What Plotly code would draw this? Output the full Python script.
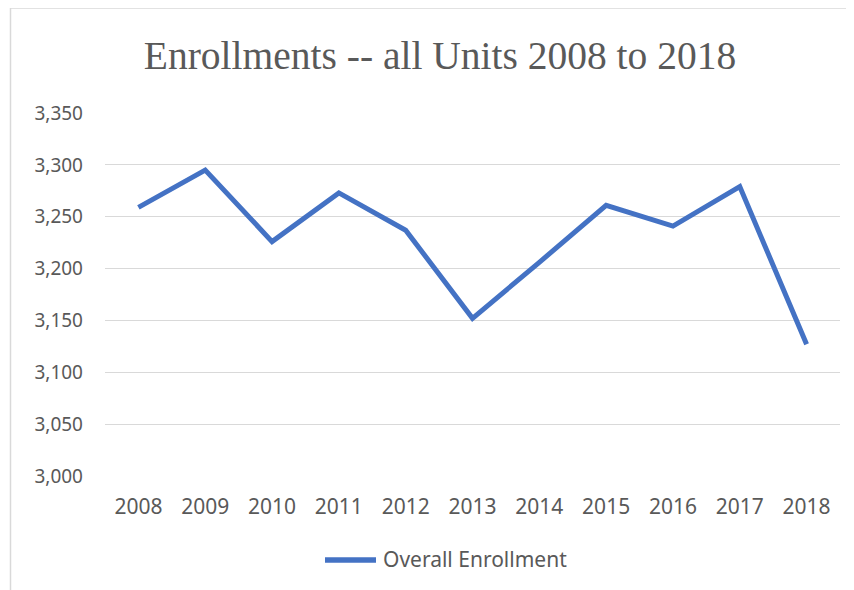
import plotly.graph_objects as go

years = ["2008", "2009", "2010", "2011", "2012", "2013", "2014", "2015", "2016", "2017", "2018"]
enrollment = [3259, 3295, 3226, 3273, 3237, 3152, 3206, 3261, 3241, 3279, 3127]
series_name = "Overall Enrollment"
title_text = "Enrollments -- all Units 2008 to 2018"

OFF = 8  # page body margin
W, H = 854 - OFF, 590 - OFF
# plot area in reference pixels: x 105..840, y 113..476
L, R = 105 - OFF, 854 - 840
T, B = 113 - OFF, 590 - 476
pw, ph = W - L - R, H - T - B

def px_x(x):
    return (x - OFF - L) / pw

def px_y(y):
    return (H - B - (y - OFF)) / ph

BLUE = "#4472C4"
grid = "#D9D9D9"
txt = "#595959"

fig = go.Figure()
fig.add_trace(go.Scatter(
    x=years, y=enrollment, mode="lines", name=series_name,
    line=dict(color=BLUE, width=5),
))

fig.update_layout(
    width=W, height=H,
    margin=dict(l=L, r=R, t=T, b=B),
    paper_bgcolor="white", plot_bgcolor="white",
    font=dict(family="Noto Sans", color=txt, size=21),
    title=dict(text=title_text, xref="container", x=(440 - OFF) / W, xanchor="center",
               yref="container", y=1 - (55 - OFF) / H, yanchor="middle",
               font=dict(family="Liberation Serif", size=39.5, color=txt)),
    xaxis=dict(type="category", range=[-0.5, 10.5], showgrid=False, showline=False,
               zeroline=False, ticks="", ticklabelstandoff=16,
               tickfont=dict(size=21)),
    yaxis=dict(range=[3000, 3350], dtick=50, tickformat=",", showgrid=True,
               gridcolor=grid, gridwidth=1.3, zeroline=False, showline=False,
               ticks="", ticklabelstandoff=21, tickfont=dict(size=19)),
    showlegend=False,
    shapes=[
        dict(type="line", xref="paper", yref="paper", x0=px_x(10.5), x1=px_x(10.5),
             y0=px_y(8), y1=px_y(600), line=dict(color=grid, width=1.5)),
        dict(type="line", xref="paper", yref="paper", x0=px_x(10.5), x1=px_x(860),
             y0=px_y(8), y1=px_y(8), line=dict(color=grid, width=1.5)),
        dict(type="line", xref="paper", yref="paper", x0=px_x(325), x1=px_x(376),
             y0=px_y(560), y1=px_y(560), line=dict(color=BLUE, width=5.5)),
    ],
    annotations=[
        dict(text=series_name, xref="paper", yref="paper", x=px_x(381), y=px_y(559),
             xanchor="left", yanchor="middle", showarrow=False,
             font=dict(size=21, color=txt)),
    ],
)

fig.write_html("out.html")
